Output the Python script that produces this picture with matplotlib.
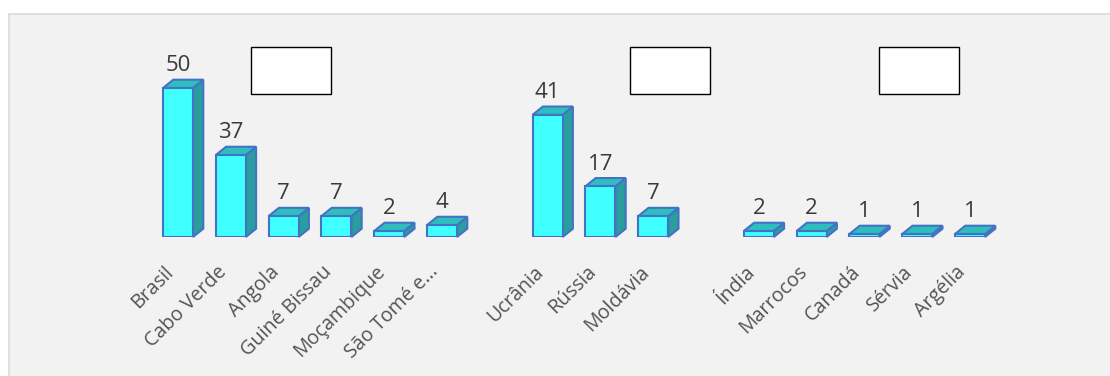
import matplotlib
matplotlib.use("Agg")
import matplotlib.pyplot as plt
from matplotlib.patches import Rectangle, Polygon

# ---- data ----
cats_g1 = ["Brasil", "Cabo Verde", "Angola", "Guiné Bissau", "Moçambique", "São Tomé e..."]
vals_g1 = [50, 27.5, 7, 7, 2, 4]
labs_g1 = ["50", "37", "7", "7", "2", "4"]

cats_g2 = ["Ucrânia", "Rússia", "Moldávia"]
vals_g2 = [41, 17, 7]
labs_g2 = ["41", "17", "7"]

cats_g3 = ["Índia", "Marrocos", "Canadá", "Sérvia", "Argélia"]
vals_g3 = [2, 2, 1, 1, 1]
labs_g3 = ["2", "2", "1", "1", "1"]

groups = [(cats_g1, vals_g1, labs_g1), (cats_g2, vals_g2, labs_g2), (cats_g3, vals_g3, labs_g3)]

# ---- layout / style ----
W, H, DPI = 1110, 376, 100
FRONT = "#40FFFF"
TOP = "#2EBEBE"
SIDE = "#289E9E"
EDGE = "#4472C4"
DEPTH_X_PX, DEPTH_Y_PX = 10.3, 8.3
SLOT_PX = 52.8
BAR_W = 30 / SLOT_PX
Y_MAX = 60
PX_PER_UNIT = 2.98
BASE_Y_PX = 237
X0_PX = 178

plt.rcParams["font.family"] = ["Open Sans", "DejaVu Sans"]

fig = plt.figure(figsize=(W / DPI, H / DPI), dpi=DPI, facecolor="white")

# background panel
fig.patches.append(Rectangle((8.5 / W, -0.1), 1.2, 1.1 - 14.5 / H,
                             transform=fig.transFigure, facecolor="#F2F2F2",
                             edgecolor="#D9D9D9", linewidth=1.2, zorder=-5))

# positions: one empty slot between groups
positions, cats, vals, labs = [], [], [], []
p = 0
for gc, gv, gl in groups:
    for c, v, l in zip(gc, gv, gl):
        positions.append(p)
        cats.append(c)
        vals.append(v)
        labs.append(l)
        p += 1
    p += 1
n_slots = p - 1

ax_w_px = n_slots * SLOT_PX
ax_left_px = X0_PX - 0.5 * SLOT_PX
ax_h_px = Y_MAX * PX_PER_UNIT
ax = fig.add_axes([ax_left_px / W, (H - BASE_Y_PX) / H, ax_w_px / W, ax_h_px / H])
ax.set_zorder(1)
ax.set_xlim(-0.5, n_slots - 0.5)
ax.set_ylim(0, Y_MAX)
ax.patch.set_visible(False)
for s in ax.spines.values():
    s.set_visible(False)
ax.set_yticks([])

dx = DEPTH_X_PX / SLOT_PX
dy = DEPTH_Y_PX / PX_PER_UNIT

bars = ax.bar(positions, vals, width=BAR_W, color=FRONT, edgecolor=EDGE,
              linewidth=1.5, zorder=3)
for b, v, lab in zip(bars, vals, labs):
    x0 = b.get_x()
    w = b.get_width()
    side = Polygon([(x0 + w, 0), (x0 + w + dx, dy), (x0 + w + dx, v + dy), (x0 + w, v)],
                   closed=True, facecolor=SIDE, edgecolor=EDGE, linewidth=1.5, zorder=2,
                   clip_on=False)
    top = Polygon([(x0, v), (x0 + dx, v + dy), (x0 + w + dx, v + dy), (x0 + w, v)],
                  closed=True, facecolor=TOP, edgecolor=EDGE, linewidth=1.5, zorder=2,
                  clip_on=False)
    ax.add_patch(side)
    ax.add_patch(top)
    ax.annotate(lab, (x0 + w / 2, v), xytext=(0, DEPTH_Y_PX + 8.5),
                textcoords="offset pixels", ha="center", va="baseline",
                fontsize=16, color="#3A3A3A")

ax.set_xticks(positions)
ax.set_xticklabels(cats, rotation=45, ha="right", fontsize=14.2, color="#545454")
ax.tick_params(axis="x", length=0, pad=18)

# empty title boxes
boxes_px = [(250.5, 46.5, 80.5, 47), (629.5, 46.5, 80.5, 47), (878.5, 46.5, 80, 47)]
for bx, by, bw, bh in boxes_px:
    fig.patches.append(Rectangle((bx / W, (H - by - bh) / H), bw / W, bh / H,
                                 transform=fig.transFigure, facecolor="white",
                                 edgecolor="black", linewidth=1.0, zorder=5))

fig.savefig("out.png", dpi=DPI, facecolor="white")
